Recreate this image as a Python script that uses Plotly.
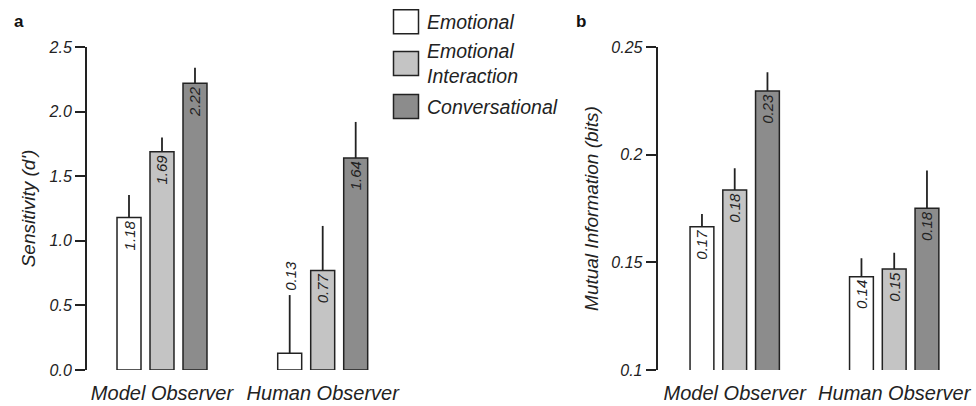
import plotly.graph_objects as go

groups = ["Model Observer", "Human Observer"]
series = ["Emotional", "Emotional<br>Interaction", "Conversational"]
colors = ["#ffffff", "#c4c4c4", "#8c8c8c"]

# Panel a: Sensitivity (d')
dprime = {
    "Emotional": [1.18, 0.13],
    "Emotional<br>Interaction": [1.69, 0.77],
    "Conversational": [2.22, 1.64],
}
dprime_err = {
    "Emotional": [0.175, 0.45],
    "Emotional<br>Interaction": [0.11, 0.345],
    "Conversational": [0.12, 0.28],
}

# Panel b: Mutual Information (bits)
mi = {
    "Emotional": [0.1665, 0.1433],
    "Emotional<br>Interaction": [0.1836, 0.1469],
    "Conversational": [0.2296, 0.1751],
}
mi_err = {
    "Emotional": [0.006, 0.0086],
    "Emotional<br>Interaction": [0.0101, 0.0076],
    "Conversational": [0.0087, 0.0175],
}
mi_labels = {
    "Emotional": ["0.17", "0.14"],
    "Emotional<br>Interaction": ["0.18", "0.15"],
    "Conversational": ["0.23", "0.18"],
}

ticks_a = [0.0, 0.5, 1.0, 1.5, 2.0, 2.5]
ticks_a_text = ["0.0", "0.5", "1.0", "1.5", "2.0", "2.5"]
ticks_b = [0.1, 0.15, 0.2, 0.25]
ticks_b_text = ["0.1", "0.15", "0.2", "0.25"]

FONT = "Liberation Sans, Arial, sans-serif"
INK = "#222222"

fig = go.Figure()

annotations = []
for s, c in zip(series, colors):
    vals = dprime[s]
    labels = [f"{v:.2f}" for v in vals]
    # values too short to hold their label get it above the error bar instead
    tpos = ["inside" if v > 0.3 else "none" for v in vals]
    fig.add_trace(go.Bar(
        x=groups, y=vals, name=s, xaxis="x", yaxis="y",
        marker=dict(color=c, line=dict(color=INK, width=1.5)),
        error_y=dict(type="data", symmetric=False, array=dprime_err[s],
                     arrayminus=[0] * len(vals), color=INK, thickness=1.8, width=0),
        text=labels, textposition=tpos, insidetextanchor="end", textangle=-90,
        textfont=dict(family=FONT, size=15, color=INK, style="italic"),
        showlegend=False, offsetgroup=s,
    ))
    for g, v, e, tp, lab in zip(groups, vals, dprime_err[s], tpos, labels):
        if tp == "none":
            annotations.append(dict(
                x=g, y=v + e, xref="x", yref="y", text=lab, showarrow=False,
                textangle=-90, yanchor="bottom", yshift=2,
                xshift=(series.index(s) - 1) * 33,
                font=dict(family=FONT, size=15, color=INK, style="italic")))

for s, c in zip(series, colors):
    vals = mi[s]
    fig.add_trace(go.Bar(
        x=groups, y=vals, name=s, xaxis="x2", yaxis="y2",
        marker=dict(color=c, line=dict(color=INK, width=1.5)),
        error_y=dict(type="data", symmetric=False, array=mi_err[s],
                     arrayminus=[0] * len(vals), color=INK, thickness=1.8, width=0),
        text=mi_labels[s], textposition="inside", insidetextanchor="end", textangle=-90,
        textfont=dict(family=FONT, size=15, color=INK, style="italic"),
        showlegend=False, offsetgroup=s,
    ))

axis_common = dict(showgrid=False, zeroline=False)
xa_common = dict(type="category", showline=False, ticks="", automargin=False,
                 ticklabelstandoff=9,
                 tickfont=dict(family=FONT, size=20, color=INK, style="italic"), **axis_common)
ya_common = dict(showline=True, linecolor=INK, linewidth=2, ticks="outside", ticklen=10,
                 tickwidth=1.5, tickcolor=INK, automargin=False,
                 tickfont=dict(family=FONT, size=16, color=INK, style="italic"),
                 title_font=dict(family=FONT, size=19, color=INK, style="italic"),
                 **axis_common)

fig.update_layout(
    width=976, height=406,
    margin=dict(l=0, r=0, t=0, b=0),
    paper_bgcolor="white", plot_bgcolor="white",
    barmode="group", bargap=0.384, bargroupgap=0.273,
    xaxis=dict(domain=[87 / 976, 420 / 976], range=[-0.4667, 1.6055], anchor="y", **xa_common),
    yaxis=dict(domain=[36 / 406, 359 / 406], range=[0, 2.5], anchor="x",
               tickvals=ticks_a, ticktext=ticks_a_text,
               title=dict(text="Sensitivity (d')", standoff=8), **ya_common),
    xaxis2=dict(domain=[657.7 / 976, 1.0], range=[-0.4828, 1.5128], anchor="y2", **xa_common),
    yaxis2=dict(domain=[36 / 406, 359 / 406], range=[0.1, 0.25], anchor="x2",
                tickvals=ticks_b, ticktext=ticks_b_text,
                title=dict(text="Mutual Information (bits)", standoff=8), **ya_common),
    font=dict(family=FONT, color=INK),
)

# panel letters
annotations.append(dict(x=12 / 976, y=1 - 10 / 406, xref="paper", yref="paper", text="<b>a</b>",
                        showarrow=False, xanchor="left", yanchor="top",
                        font=dict(family=FONT, size=17, color="#111")))
annotations.append(dict(x=574 / 976, y=1 - 10 / 406, xref="paper", yref="paper", text="<b>b</b>",
                        showarrow=False, xanchor="left", yanchor="top",
                        font=dict(family=FONT, size=17, color="#111")))

# custom legend with large swatches
legend_y = [21.7, 63.5, 106.5]
shapes = []
for s, c, yc in zip(series, colors, legend_y):
    shapes.append(dict(type="rect", xref="paper", yref="paper",
                       x0=393.5 / 976, x1=418.5 / 976,
                       y0=1 - (yc + 12) / 406, y1=1 - (yc - 12) / 406,
                       fillcolor=c, line=dict(color=INK, width=1.5)))
    annotations.append(dict(x=425 / 976, y=1 - yc / 406, xref="paper", yref="paper", text=s,
                            showarrow=False, xanchor="left", yanchor="middle", align="left",
                            font=dict(family=FONT, size=19.5, color=INK, style="italic")))

fig.update_layout(annotations=annotations, shapes=shapes)

fig.write_html("out.html", config={"displayModeBar": False},
               post_script="document.body.style.margin='0';document.body.style.overflow='hidden';")
